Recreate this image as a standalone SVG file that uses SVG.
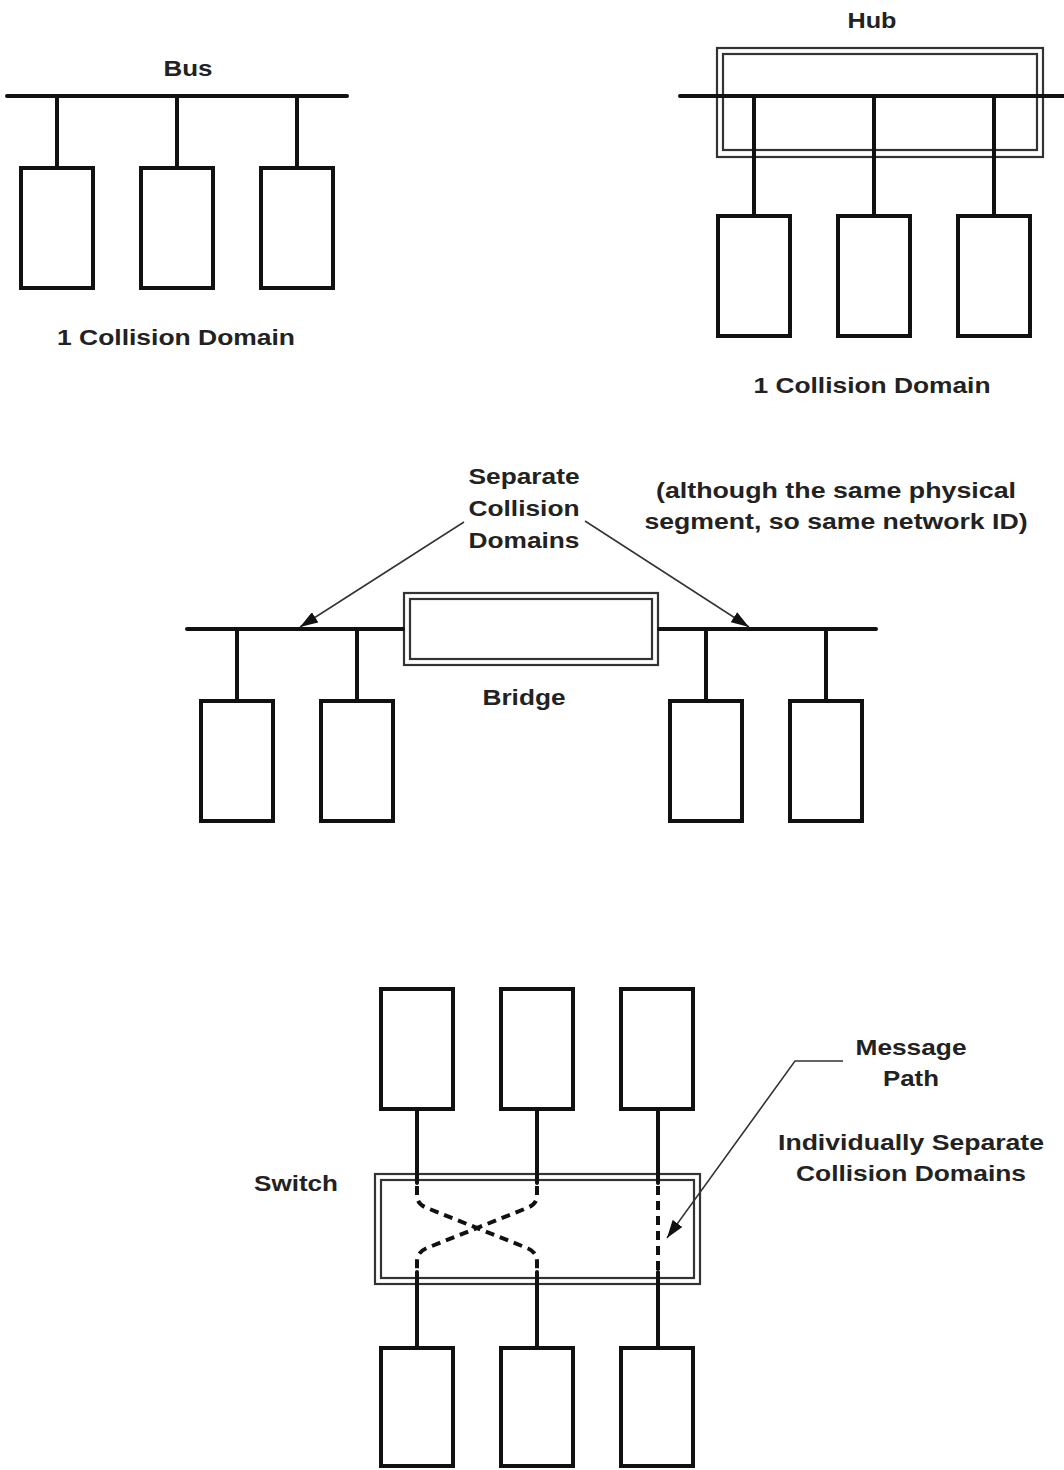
<svg xmlns="http://www.w3.org/2000/svg" width="1064" height="1470" viewBox="0 0 1064 1470">
<defs>
<style>
.bg{fill:#fff}
.box{fill:#fff;stroke:#111;stroke-width:4}
.wire{fill:none;stroke:#111;stroke-width:4;stroke-linecap:round}
.dash{fill:none;stroke:#111;stroke-width:4;stroke-dasharray:9 6}
.dbl{fill:none;stroke:#333;stroke-width:2.2}
.dblw{fill:#fff;stroke:#333;stroke-width:2.2}
.ptr{fill:none;stroke:#333;stroke-width:1.5}
.lbl{font-family:"Liberation Sans",Arial,sans-serif;font-weight:bold;font-size:22px;fill:#222;text-anchor:middle}
</style>
<marker id="ah" viewBox="0 0 18 12" refX="18" refY="6" markerWidth="18" markerHeight="12" markerUnits="userSpaceOnUse" orient="auto">
<path d="M0,0 L18,6 L0,12 Z" fill="#111"/>
</marker>
</defs>
<rect class="bg" x="0" y="0" width="1064" height="1470"/>

<!-- Bus section -->
<g id="bus">
<line class="wire" x1="7" y1="96" x2="347" y2="96"/>
<text class="lbl" x="188" y="76" textLength="49" lengthAdjust="spacingAndGlyphs">Bus</text>
</g>
<g id="bus-pc1"><rect class="box" x="21" y="168" width="72" height="120"/></g>
<g id="bus-pc2"><rect class="box" x="141" y="168" width="72" height="120"/></g>
<g id="bus-pc3"><rect class="box" x="261" y="168" width="72" height="120"/></g>
<g id="bus-caption"><text class="lbl" x="176" y="345" textLength="238" lengthAdjust="spacingAndGlyphs">1 Collision Domain</text></g>

<!-- Hub section -->
<g id="hub">
<rect class="dbl" x="717" y="48" width="326" height="109"/>
<rect class="dbl" x="723" y="54" width="314" height="96"/>
<text class="lbl" x="872" y="28" textLength="49" lengthAdjust="spacingAndGlyphs">Hub</text>
</g>
<g id="hub-pc1"><rect class="box" x="718" y="216" width="72" height="120"/></g>
<g id="hub-pc2"><rect class="box" x="838" y="216" width="72" height="120"/></g>
<g id="hub-pc3"><rect class="box" x="958" y="216" width="72" height="120"/></g>
<g id="hub-caption"><text class="lbl" x="872" y="393" textLength="237" lengthAdjust="spacingAndGlyphs">1 Collision Domain</text></g>

<!-- Bridge section -->
<g id="bridge">
<rect class="dblw" x="404" y="593" width="254" height="72"/>
<rect class="dbl" x="410" y="599" width="242" height="60"/>
<text class="lbl" x="524" y="705" textLength="83" lengthAdjust="spacingAndGlyphs">Bridge</text>
</g>
<g id="bridge-pc1"><rect class="box" x="201" y="701" width="72" height="120"/></g>
<g id="bridge-pc2"><rect class="box" x="321" y="701" width="72" height="120"/></g>
<g id="bridge-pc3"><rect class="box" x="670" y="701" width="72" height="120"/></g>
<g id="bridge-pc4"><rect class="box" x="790" y="701" width="72" height="120"/></g>
<g id="bridge-label">
<text class="lbl" x="524" y="484" textLength="111" lengthAdjust="spacingAndGlyphs">Separate</text>
<text class="lbl" x="524" y="516" textLength="111" lengthAdjust="spacingAndGlyphs">Collision</text>
<text class="lbl" x="524" y="548" textLength="111" lengthAdjust="spacingAndGlyphs">Domains</text>
</g>
<g id="bridge-note">
<text class="lbl" x="836" y="498" textLength="360" lengthAdjust="spacingAndGlyphs">(although the same physical</text>
<text class="lbl" x="836" y="529" textLength="383" lengthAdjust="spacingAndGlyphs">segment, so same network ID)</text>
</g>

<!-- Switch section -->
<g id="switch">
<rect class="dbl" x="375" y="1174" width="325" height="110"/>
<rect class="dbl" x="381" y="1180" width="313" height="98"/>
<text class="lbl" x="296" y="1191" textLength="84" lengthAdjust="spacingAndGlyphs">Switch</text>
</g>
<g id="sw-pc1"><rect class="box" x="381" y="989" width="72" height="120"/></g>
<g id="sw-pc2"><rect class="box" x="501" y="989" width="72" height="120"/></g>
<g id="sw-pc3"><rect class="box" x="621" y="989" width="72" height="120"/></g>
<g id="sw-pc4"><rect class="box" x="381" y="1348" width="72" height="118"/></g>
<g id="sw-pc5"><rect class="box" x="501" y="1348" width="72" height="118"/></g>
<g id="sw-pc6"><rect class="box" x="621" y="1348" width="72" height="118"/></g>
<g id="message-label">
<text class="lbl" x="911" y="1055" textLength="111" lengthAdjust="spacingAndGlyphs">Message</text>
<text class="lbl" x="911" y="1086" textLength="56" lengthAdjust="spacingAndGlyphs">Path</text>
</g>
<g id="switch-note">
<text class="lbl" x="911" y="1150" textLength="266" lengthAdjust="spacingAndGlyphs">Individually Separate</text>
<text class="lbl" x="911" y="1181" textLength="230" lengthAdjust="spacingAndGlyphs">Collision Domains</text>
</g>

<g id="connectors">
<!-- bus drops -->
<line class="wire" x1="57" y1="96" x2="57" y2="168"/>
<line class="wire" x1="177" y1="96" x2="177" y2="168"/>
<line class="wire" x1="297" y1="96" x2="297" y2="168"/>
<!-- hub -->
<line class="wire" x1="680" y1="96" x2="1064" y2="96"/>
<line class="wire" x1="754" y1="96" x2="754" y2="216"/>
<line class="wire" x1="874" y1="96" x2="874" y2="216"/>
<line class="wire" x1="994" y1="96" x2="994" y2="216"/>
<!-- bridge -->
<line class="wire" x1="187" y1="629" x2="403" y2="629"/>
<line class="wire" x1="659" y1="629" x2="876" y2="629"/>
<line class="wire" x1="237" y1="629" x2="237" y2="701"/>
<line class="wire" x1="357" y1="629" x2="357" y2="701"/>
<line class="wire" x1="706" y1="629" x2="706" y2="701"/>
<line class="wire" x1="826" y1="629" x2="826" y2="701"/>
<line class="ptr" x1="464" y1="522" x2="300" y2="627" marker-end="url(#ah)"/>
<line class="ptr" x1="585" y1="521" x2="749" y2="627" marker-end="url(#ah)"/>
<!-- switch -->
<line class="wire" x1="417" y1="1109" x2="417" y2="1183"/>
<line class="wire" x1="537" y1="1109" x2="537" y2="1183"/>
<line class="wire" x1="658" y1="1109" x2="658" y2="1183"/>
<line class="wire" x1="417" y1="1272" x2="417" y2="1348"/>
<line class="wire" x1="537" y1="1272" x2="537" y2="1348"/>
<line class="wire" x1="658" y1="1272" x2="658" y2="1348"/>
<path class="dash" d="M417,1186 L417,1196 Q417,1204 427,1208 L527,1248 Q537,1252 537,1262 L537,1272"/>
<path class="dash" d="M537,1186 L537,1196 Q537,1204 527,1208 L427,1248 Q417,1252 417,1262 L417,1272"/>
<path class="dash" d="M658,1186 L658,1272"/>
<polyline class="ptr" points="843,1061 795,1061 667,1238" marker-end="url(#ah)"/>
</g>
</svg>
